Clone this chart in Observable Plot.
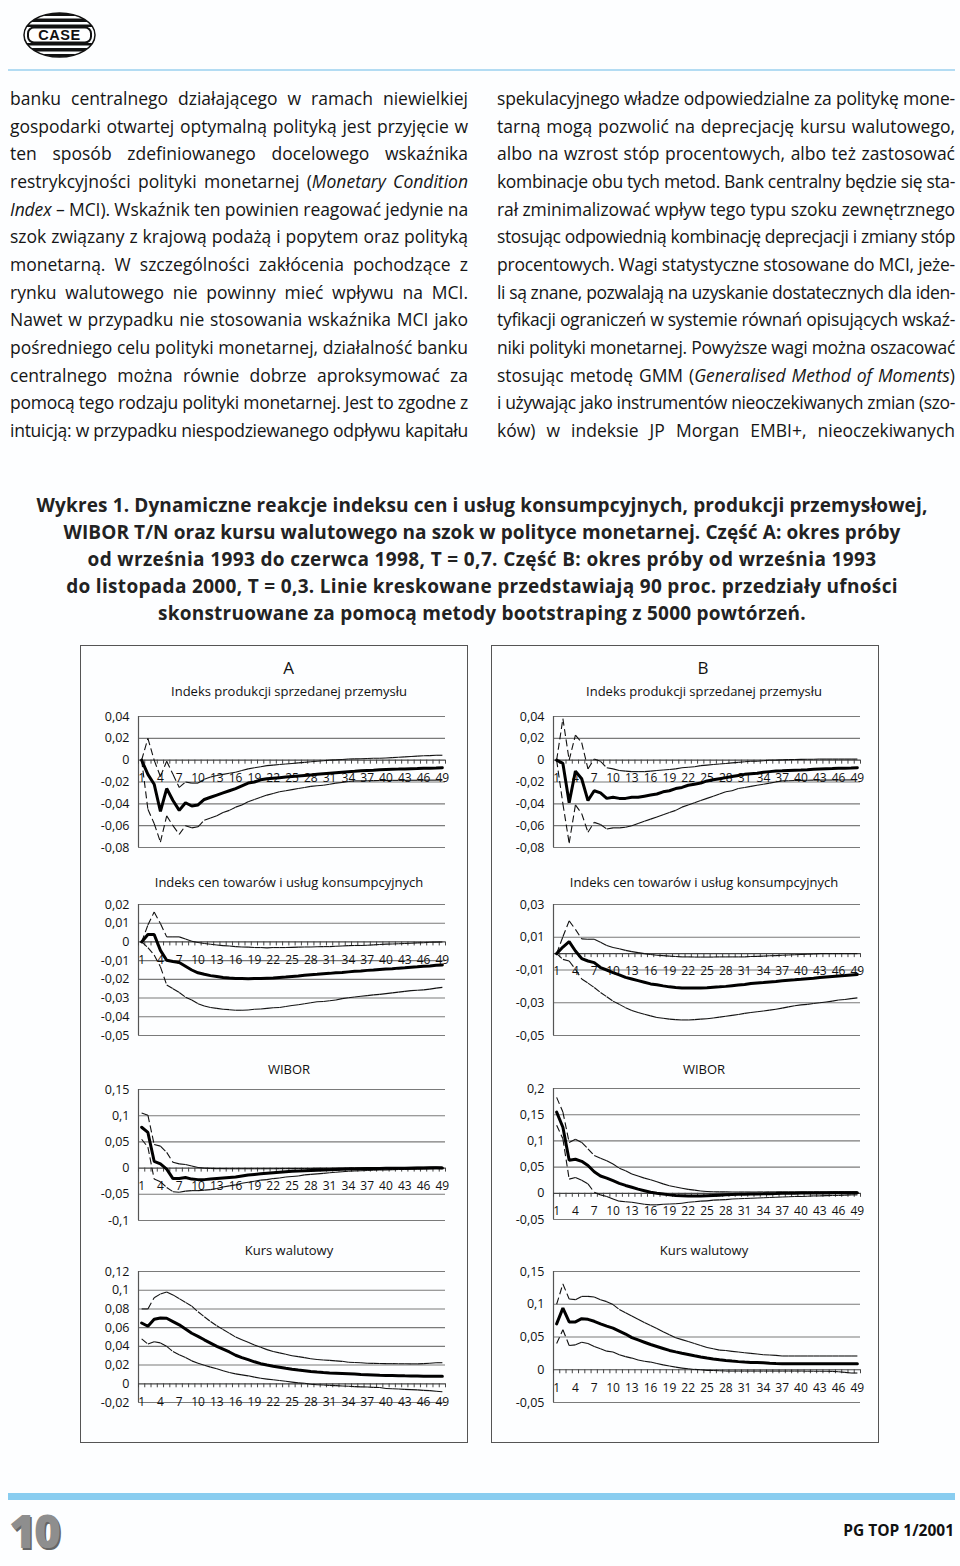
<!DOCTYPE html>
<html><head><meta charset="utf-8">
<script src="https://cdn.jsdelivr.net/npm/d3@7"></script>
<script src="https://cdn.jsdelivr.net/npm/@observablehq/plot@0.6"></script>
<style>
html,body{margin:0;padding:0;background:#fdfeff;}
#page{position:relative;width:960px;height:1566px;overflow:hidden;font-family:"Open Sans",sans-serif;color:#151515;}
.abs{position:absolute;}
.line{position:absolute;white-space:nowrap;font-size:17.5px;line-height:20px;}
.cap{position:absolute;white-space:nowrap;font-size:19px;font-weight:700;line-height:22px;color:#222;transform:translateX(-50%);}
.frame{position:absolute;border:1.5px solid #555;box-sizing:border-box;background:#fdfeff;}
.ttl{position:absolute;transform:translate(-50%,-50%);white-space:nowrap;color:#111;}
.chart{position:absolute;}
</style></head>
<body><div id="page">
<svg class="abs" style="left:23px;top:12px" width="73" height="46" viewBox="0 0 73 46">
<defs><clipPath id="ov"><ellipse cx="36.5" cy="23" rx="35.5" ry="22"/></clipPath></defs>
<g clip-path="url(#ov)" fill="#111">
<rect x="0" y="0" width="73" height="4"/><rect x="0" y="6.5" width="73" height="3.5"/><rect x="0" y="12.5" width="73" height="2.5"/>
<rect x="0" y="31" width="73" height="2.5"/><rect x="0" y="36" width="73" height="3.5"/><rect x="0" y="42" width="73" height="4"/>
</g>
<ellipse cx="36.5" cy="23" rx="35.5" ry="22" fill="none" stroke="#111" stroke-width="1.5"/>
<rect x="5" y="15.5" width="63" height="15" rx="6" fill="#fff" stroke="#111" stroke-width="2"/>
<text x="36.5" y="28.2" text-anchor="middle" font-family="Liberation Sans" font-weight="700" font-size="14.5" fill="#111" letter-spacing="0.6">CASE</text>
</svg>
<div class="abs" style="left:8px;top:69px;width:947px;height:1.5px;background:#b3dcf3"></div>
<div class="frame" style="left:80px;top:645px;width:388px;height:798px"></div>
<div class="frame" style="left:491px;top:645px;width:388px;height:798px"></div>
<div class="abs" style="left:8px;top:1493px;width:947px;height:7px;background:#89cdf0"></div>
<div class="abs" style="left:9px;top:1503px;font-family:'Open Sans';font-weight:800;font-size:46px;line-height:54px;color:#8e8e8e;text-shadow:1.5px 1.5px 0 #666;letter-spacing:-2px">10</div>
<div class="abs" style="right:6px;top:1520px;font-family:'Open Sans';font-weight:700;font-size:15.5px;line-height:20px;color:#111">PG TOP 1/2001</div>
</div>
<script>
// ---------- text ----------
const leftLines = [
 "banku centralnego działającego w ramach niewielkiej",
 "gospodarki otwartej optymalną polityką jest przyjęcie w",
 "ten sposób zdefiniowanego docelowego wskaźnika",
 "restrykcyjności polityki monetarnej (<i>Monetary Condition</i>",
 "<i>Index</i> – MCI). Wskaźnik ten powinien reagować jedynie na",
 "szok związany z krajową podażą i popytem oraz polityką",
 "monetarną. W szczególności zakłócenia pochodzące z",
 "rynku walutowego nie powinny mieć wpływu na MCI.",
 "Nawet w przypadku nie stosowania wskaźnika MCI jako",
 "pośredniego celu polityki monetarnej, działalność banku",
 "centralnego można równie dobrze aproksymować za",
 "pomocą tego rodzaju polityki monetarnej. Jest to zgodne z",
 "intuicją: w przypadku niespodziewanego odpływu kapitału"
];
const rightLines = [
 "spekulacyjnego władze odpowiedzialne za politykę mone-",
 "tarną mogą pozwolić na deprecjację kursu walutowego,",
 "albo na wzrost stóp procentowych, albo też zastosować",
 "kombinacje obu tych metod. Bank centralny będzie się sta-",
 "rał zminimalizować wpływ tego typu szoku zewnętrznego",
 "stosując odpowiednią kombinację deprecjacji i zmiany stóp",
 "procentowych. Wagi statystyczne stosowane do MCI, jeże-",
 "li są znane, pozwalają na uzyskanie dostatecznych dla iden-",
 "tyfikacji ograniczeń w systemie równań opisujących wskaź-",
 "niki polityki monetarnej. Powyższe wagi można oszacować",
 "stosując metodę GMM (<i>Generalised Method of Moments</i>)",
 "i używając jako instrumentów nieoczekiwanych zmian (szo-",
 "ków) w indeksie JP Morgan EMBI+, nieoczekiwanych"
];
const captionLines = [
 "Wykres 1.  Dynamiczne reakcje indeksu cen i usług konsumpcyjnych, produkcji przemysłowej,",
 "WIBOR T/N oraz kursu walutowego na szok w polityce monetarnej. Część A: okres próby",
 "od września 1993 do czerwca 1998, T = 0,7. Część B: okres próby od września 1993",
 "do listopada  2000, T = 0,3. Linie kreskowane przedstawiają 90 proc. przedziały ufności",
 "skonstruowane za pomocą metody bootstraping z 5000 powtórzeń."
];
const captionWidths = [891, 837, 789, 832, 648];

// ---------- chart data ----------
const periods = [1,2,3,4,5,6,7,8,9,10,11,12,13,14,15,16,17,18,19,20,21,22,23,24,25,26,27,28,29,30,31,32,33,34,35,36,37,38,39,40,41,42,43,44,45,46,47,48,49];
const periodLabels = [1,4,7,10,13,16,19,22,25,28,31,34,37,40,43,46,49];

// A: Indeks produkcji sprzedanej przemysłu
const prodA_mid = [0,-0.013,-0.022,-0.047,-0.026,-0.037,-0.046,-0.039,-0.042,-0.041,-0.036,-0.034,-0.032,-0.030,-0.028,-0.026,-0.0235,-0.021,-0.020,-0.018,-0.017,-0.0165,-0.016,-0.0155,-0.015,-0.0145,-0.014,-0.0135,-0.013,-0.0125,-0.012,-0.0115,-0.011,-0.0105,-0.0102,-0.0098,-0.0095,-0.0092,-0.0088,-0.0085,-0.0083,-0.0082,-0.008,-0.0078,-0.0077,-0.0075,-0.0073,-0.0072,-0.007];
const prodA_up = [0,0.020,0.000,-0.015,-0.001,-0.013,-0.025,-0.020,-0.021,-0.021,-0.0175,-0.0155,-0.014,-0.013,-0.012,-0.011,-0.0095,-0.008,-0.007,-0.006,-0.005,-0.0045,-0.004,-0.0035,-0.003,-0.0025,-0.002,-0.0015,-0.001,-0.0005,0,0.0003,0.0006,0.001,0.0012,0.0013,0.0015,0.0017,0.0018,0.002,0.0023,0.0027,0.003,0.0033,0.0037,0.004,0.0042,0.0045,0.0045];
const prodA_lo = [0,-0.045,-0.058,-0.075,-0.051,-0.060,-0.068,-0.060,-0.062,-0.061,-0.055,-0.053,-0.051,-0.048,-0.046,-0.043,-0.041,-0.038,-0.036,-0.034,-0.032,-0.0305,-0.029,-0.028,-0.027,-0.026,-0.025,-0.024,-0.0235,-0.023,-0.022,-0.021,-0.0205,-0.0195,-0.019,-0.019,-0.0188,-0.0187,-0.0186,-0.0186,-0.0185,-0.0185,-0.0185,-0.0184,-0.0184,-0.0184,-0.0183,-0.0183,-0.0183];
// B: Indeks produkcji sprzedanej przemysłu
const prodB_mid = [0,-0.003,-0.039,-0.010,-0.017,-0.037,-0.028,-0.030,-0.035,-0.034,-0.035,-0.035,-0.034,-0.034,-0.033,-0.032,-0.031,-0.029,-0.028,-0.026,-0.025,-0.023,-0.022,-0.021,-0.019,-0.018,-0.017,-0.016,-0.015,-0.014,-0.013,-0.0125,-0.012,-0.011,-0.0105,-0.010,-0.0098,-0.0095,-0.0092,-0.009,-0.0087,-0.0083,-0.008,-0.0078,-0.0077,-0.0075,-0.0073,-0.0072,-0.007];
const prodB_up = [0,0.038,0.000,0.023,0.016,-0.008,0.001,-0.001,-0.007,-0.008,-0.0095,-0.010,-0.0105,-0.0105,-0.0105,-0.010,-0.0095,-0.009,-0.0085,-0.008,-0.007,-0.0065,-0.006,-0.005,-0.0045,-0.004,-0.0035,-0.003,-0.0025,-0.002,-0.0015,-0.001,-0.001,-0.0005,0,0,0.0003,0.0005,0.0006,0.0007,0.0008,0.0009,0.001,0.001,0.001,0.001,0.001,0.001,0.001];
const prodB_lo = [0,-0.040,-0.076,-0.041,-0.049,-0.066,-0.057,-0.059,-0.063,-0.062,-0.062,-0.0615,-0.060,-0.058,-0.056,-0.054,-0.052,-0.050,-0.048,-0.046,-0.043,-0.041,-0.039,-0.037,-0.035,-0.033,-0.031,-0.029,-0.028,-0.026,-0.025,-0.024,-0.023,-0.022,-0.021,-0.020,-0.019,-0.0188,-0.0186,-0.0185,-0.0184,-0.0183,-0.0183,-0.0182,-0.0182,-0.0182,-0.0181,-0.0181,-0.018];
// A: Indeks cen towarów i usług konsumpcyjnych
const cpiA_mid = [0,0.004,0.004,-0.0045,-0.0098,-0.0105,-0.011,-0.013,-0.015,-0.0165,-0.0173,-0.018,-0.0185,-0.019,-0.0193,-0.0195,-0.0196,-0.0197,-0.0196,-0.0195,-0.0194,-0.0193,-0.019,-0.0188,-0.0185,-0.0182,-0.0178,-0.0175,-0.0173,-0.017,-0.0168,-0.0165,-0.0163,-0.016,-0.0157,-0.0155,-0.0152,-0.015,-0.0147,-0.0145,-0.0143,-0.014,-0.0138,-0.0135,-0.0133,-0.013,-0.0128,-0.0125,-0.0123];
const cpiA_up = [0,0.009,0.016,0.0098,0.0027,0.0027,0.0027,0.0016,0.0004,-0.0003,-0.0008,-0.0012,-0.0016,-0.002,-0.0022,-0.0025,-0.0027,-0.0028,-0.003,-0.003,-0.0032,-0.003,-0.003,-0.003,-0.0029,-0.0028,-0.0027,-0.0027,-0.0026,-0.0025,-0.0025,-0.0023,-0.0022,-0.002,-0.0019,-0.0019,-0.0018,-0.0016,-0.0014,-0.0012,-0.0011,-0.001,-0.0008,-0.0007,-0.0005,-0.0004,-0.0002,-0.0001,0];
const cpiA_lo = [0,-0.003,-0.007,-0.0133,-0.023,-0.025,-0.027,-0.0295,-0.031,-0.033,-0.0342,-0.035,-0.0355,-0.036,-0.0362,-0.0365,-0.0365,-0.0364,-0.036,-0.0358,-0.0355,-0.0352,-0.035,-0.0345,-0.034,-0.0336,-0.033,-0.0325,-0.032,-0.0318,-0.0314,-0.031,-0.0303,-0.0298,-0.0294,-0.029,-0.0287,-0.0283,-0.028,-0.0276,-0.0272,-0.0268,-0.0264,-0.026,-0.0258,-0.0256,-0.0252,-0.0247,-0.0243];
// B: Indeks cen towarów i usług konsumpcyjnych
const cpiB_mid = [0,0.004,0.0073,0.0016,-0.003,-0.0045,-0.0055,-0.0085,-0.010,-0.0116,-0.013,-0.0145,-0.0155,-0.0165,-0.0175,-0.0185,-0.019,-0.0197,-0.0203,-0.0207,-0.021,-0.021,-0.021,-0.021,-0.0208,-0.0205,-0.0203,-0.020,-0.0196,-0.0192,-0.0188,-0.0183,-0.018,-0.0177,-0.0173,-0.017,-0.0166,-0.0162,-0.016,-0.0157,-0.0153,-0.015,-0.0146,-0.0143,-0.014,-0.0137,-0.0134,-0.013,-0.0127];
const cpiB_up = [0,0.0103,0.020,0.0148,0.009,0.0088,0.0088,0.007,0.005,0.0037,0.003,0.002,0.0012,0.0006,0,-0.0005,-0.001,-0.0012,-0.0015,-0.0018,-0.002,-0.002,-0.0021,-0.0021,-0.0021,-0.0021,-0.002,-0.002,-0.002,-0.002,-0.002,-0.0018,-0.0017,-0.0015,-0.0013,-0.0012,-0.001,-0.0008,-0.0007,-0.0005,-0.0004,-0.0002,0,0,0,0,0,0,0];
const cpiB_lo = [0,-0.0035,-0.0045,-0.0095,-0.0155,-0.018,-0.0207,-0.0237,-0.0263,-0.029,-0.031,-0.033,-0.0347,-0.036,-0.037,-0.038,-0.039,-0.0395,-0.040,-0.0403,-0.0405,-0.0405,-0.0403,-0.040,-0.0398,-0.0393,-0.0388,-0.0382,-0.0377,-0.0372,-0.0365,-0.036,-0.0355,-0.035,-0.0345,-0.034,-0.0333,-0.0325,-0.0318,-0.0313,-0.031,-0.0305,-0.030,-0.0295,-0.029,-0.0283,-0.028,-0.0275,-0.027];
// A: WIBOR
const wiborA_mid = [0.078,0.068,0.013,0.008,-0.002,-0.020,-0.020,-0.018,-0.021,-0.022,-0.022,-0.021,-0.020,-0.019,-0.018,-0.017,-0.015,-0.013,-0.012,-0.011,-0.010,-0.009,-0.008,-0.007,-0.006,-0.0055,-0.005,-0.0045,-0.004,-0.0035,-0.003,-0.0025,-0.002,-0.0018,-0.0015,-0.0012,-0.001,-0.0008,-0.0006,-0.0005,-0.0004,-0.0003,-0.0002,-0.0001,0,0,0.0005,0.0005,0];
const wiborA_up = [0.105,0.101,0.045,0.042,0.030,0.011,0.008,0.007,0.004,0.001,0,-0.0005,-0.001,-0.001,-0.0012,-0.0012,-0.0012,-0.0012,-0.0012,-0.0012,-0.0012,-0.0011,-0.001,-0.001,-0.001,-0.0009,-0.0008,-0.0007,-0.0006,-0.0005,-0.0003,0,0.0002,0.0004,0.0005,0.0006,0.0007,0.0008,0.0009,0.001,0.001,0.0011,0.0012,0.0013,0.0014,0.0015,0.0017,0.0018,0.002];
const wiborA_lo = [0.055,0.040,-0.021,-0.026,-0.037,-0.045,-0.046,-0.044,-0.043,-0.043,-0.042,-0.041,-0.039,-0.036,-0.034,-0.032,-0.029,-0.027,-0.025,-0.023,-0.022,-0.020,-0.019,-0.017,-0.016,-0.015,-0.013,-0.012,-0.011,-0.010,-0.009,-0.008,-0.007,-0.006,-0.0055,-0.005,-0.0045,-0.004,-0.0037,-0.0034,-0.003,-0.0027,-0.0024,-0.0022,-0.002,-0.0018,-0.0015,-0.0012,-0.001];
// B: WIBOR
const wiborB_mid = [0.155,0.126,0.063,0.065,0.061,0.053,0.041,0.033,0.029,0.024,0.019,0.015,0.0115,0.008,0.005,0.002,0,-0.0015,-0.003,-0.004,-0.0045,-0.005,-0.005,-0.005,-0.0045,-0.004,-0.0035,-0.003,-0.0025,-0.002,-0.002,-0.0015,-0.0012,-0.001,-0.0007,-0.0005,0,0,0.0003,0.0005,0.0005,0.0007,0.0008,0.0008,0.001,0.001,0.001,0.001,0.001];
const wiborB_up = [0.183,0.155,0.097,0.103,0.097,0.085,0.072,0.067,0.062,0.056,0.048,0.043,0.037,0.033,0.029,0.026,0.022,0.018,0.0145,0.012,0.0095,0.0075,0.006,0.0045,0.0035,0.003,0.0028,0.0027,0.0026,0.0025,0.0025,0.0025,0.0026,0.0026,0.0027,0.0027,0.0028,0.0028,0.0028,0.0029,0.0029,0.003,0.003,0.003,0.003,0.003,0.003,0.003,0.003];
const wiborB_lo = [0.130,0.104,0.027,0.030,0.025,0.018,0.002,-0.003,-0.006,-0.011,-0.015,-0.016,-0.017,-0.019,-0.021,-0.022,-0.022,-0.021,-0.0205,-0.020,-0.019,-0.017,-0.016,-0.015,-0.0145,-0.013,-0.0125,-0.012,-0.011,-0.0105,-0.010,-0.0095,-0.009,-0.0085,-0.008,-0.0075,-0.007,-0.0065,-0.006,-0.006,-0.0055,-0.005,-0.005,-0.0045,-0.004,-0.004,-0.0035,-0.003,-0.003];
// A: Kurs walutowy
const fxA_mid = [0.065,0.0615,0.069,0.0703,0.070,0.0665,0.063,0.0585,0.054,0.0507,0.047,0.0435,0.040,0.037,0.034,0.0305,0.028,0.0258,0.0235,0.0215,0.020,0.0188,0.0177,0.0165,0.0155,0.0147,0.014,0.0132,0.0125,0.012,0.0116,0.0113,0.011,0.0107,0.0104,0.010,0.0097,0.0094,0.0091,0.0089,0.0088,0.0087,0.0085,0.0084,0.0082,0.008,0.008,0.008,0.008];
const fxA_up = [0.080,0.080,0.092,0.096,0.098,0.095,0.091,0.087,0.083,0.077,0.0717,0.0665,0.062,0.058,0.054,0.050,0.047,0.0445,0.0415,0.039,0.0365,0.0345,0.033,0.0315,0.030,0.029,0.028,0.0268,0.026,0.0255,0.025,0.0245,0.024,0.023,0.0228,0.0225,0.022,0.0218,0.0216,0.0215,0.0215,0.0214,0.0214,0.0213,0.0213,0.0215,0.022,0.0225,0.0225];
const fxA_lo = [0.048,0.0425,0.045,0.0437,0.040,0.0345,0.031,0.028,0.0245,0.022,0.0198,0.0178,0.016,0.014,0.012,0.0106,0.0095,0.0085,0.0071,0.006,0.005,0.0043,0.0035,0.0027,0.0018,0.001,0.0005,-0.0005,-0.001,-0.0013,-0.0017,-0.002,-0.0023,-0.0027,-0.003,-0.0033,-0.0035,-0.0038,-0.004,-0.005,-0.0053,-0.0056,-0.006,-0.0062,-0.0065,-0.007,-0.0073,-0.008,-0.0085];
// B: Kurs walutowy
const fxB_mid = [0.070,0.094,0.073,0.073,0.078,0.077,0.074,0.070,0.0665,0.0635,0.059,0.0545,0.049,0.0455,0.042,0.0385,0.0355,0.0325,0.0295,0.0273,0.0253,0.0234,0.0213,0.0195,0.0178,0.0165,0.0153,0.0142,0.0132,0.0124,0.0117,0.0112,0.0109,0.0106,0.0098,0.0094,0.0091,0.009,0.009,0.009,0.009,0.009,0.009,0.009,0.009,0.009,0.009,0.009,0.009];
const fxB_up = [0.100,0.131,0.108,0.107,0.112,0.112,0.111,0.107,0.104,0.0995,0.092,0.087,0.082,0.077,0.072,0.0675,0.063,0.058,0.0533,0.049,0.046,0.0431,0.040,0.037,0.034,0.032,0.030,0.0294,0.028,0.027,0.026,0.025,0.024,0.023,0.0225,0.022,0.021,0.021,0.021,0.021,0.021,0.021,0.021,0.021,0.021,0.021,0.021,0.021,0.021];
const fxB_lo = [0.040,0.061,0.037,0.038,0.042,0.040,0.0355,0.032,0.0284,0.027,0.0228,0.020,0.0178,0.015,0.013,0.0117,0.0095,0.0075,0.0056,0.004,0.0025,0.0015,0.0005,0,-0.001,-0.0012,-0.0015,-0.002,-0.002,-0.002,-0.002,-0.002,-0.002,-0.002,-0.002,-0.002,-0.002,-0.002,-0.002,-0.002,-0.0022,-0.0022,-0.0023,-0.0024,-0.0025,-0.003,-0.004,-0.005,-0.005];

// axis tick labels
const ticksProd = [-0.08,-0.06,-0.04,-0.02,0,0.02,0.04];
const ticksCpiA = [-0.05,-0.04,-0.03,-0.02,-0.01,0,0.01,0.02];
const ticksCpiB = [-0.05,-0.03,-0.01,0.01,0.03];
const ticksWiborA = [-0.1,-0.05,0,0.05,0.1,0.15];
const ticksWiborB = [-0.05,0,0.05,0.1,0.15,0.2];
const ticksFxA = [-0.02,0,0.02,0.04,0.06,0.08,0.1,0.12];
const ticksFxB = [-0.05,0,0.05,0.1,0.15];

const panelTitles = ["A","B"];
const chartTitles = ["Indeks produkcji sprzedanej przemysłu","Indeks cen towarów i usług konsumpcyjnych","WIBOR","Kurs walutowy"];

// ---------- layout ----------
const page = document.getElementById("page");
function addLines(lines, left, width, top0, step){
  lines.forEach((t,i)=>{
    const d=document.createElement("div");
    d.className="line"; d.innerHTML=t;
    d.style.left=left+"px"; d.style.top=(top0+i*step-10)+"px";
    d.dataset.w=width;
    page.appendChild(d);
  });
}
addLines(leftLines, 10, 458, 98, 27.65);
addLines(rightLines, 497, 458, 98, 27.65);
captionLines.forEach((t,i)=>{
  const d=document.createElement("div");
  d.className="cap"; d.textContent=t;
  d.style.left="482px"; d.style.top=(505+i*27-11)+"px";
  d.dataset.w=captionWidths[i];
  page.appendChild(d);
});

function addTitle(text, x, y, size, weight){
  const d=document.createElement("div");
  d.className="ttl"; d.textContent=text;
  d.style.left=x+"px"; d.style.top=y+"px"; d.style.fontSize=size+"px";
  if(weight) d.style.fontWeight=weight;
  page.appendChild(d);
}
addTitle(panelTitles[0], 288.5, 667, 17, 500);
addTitle(panelTitles[1], 703, 667, 17, 500);
const titleY = [691, 882, 1069, 1250];
chartTitles.forEach((t,i)=>{ addTitle(t, 289, titleY[i], 13); addTitle(t, 704, titleY[i], 13); });

const fmt = d => d===0 ? "0" : String(d).replace(".", ",");
const boundaries = periods.map(p=>p-0.5).concat([periods[periods.length-1]+0.5]);
const segs = arr => arr.slice(1).map((v,i)=>({x1: periods[i], x2: periods[i+1], y1: arr[i], y2: v}));

function makeChart(mid, up, lo, ticks, ml, mr){
  const dom = [ticks[0], ticks[ticks.length-1]];
  return Plot.plot({
    width: 387, height: 166, marginLeft: ml, marginRight: mr, marginTop: 10, marginBottom: 25,
    x: {domain: [periods[0]-0.5, periods[periods.length-1]+0.5], axis: null},
    y: {domain: dom, axis: null},
    style: {background: "transparent", fontFamily: "'Open Sans', sans-serif", fontSize: "12px", color: "#111", overflow: "visible"},
    marks: [
      Plot.ruleY(ticks.filter(t=>t!==0), {stroke: "#7a7a7a", strokeWidth: 1.1}),
      Plot.ruleX([periods[0]-0.5], {stroke: "#555", strokeWidth: 1.2}),
      Plot.ruleY([0], {stroke: "#444", strokeWidth: 1.2}),
      Plot.ruleX(boundaries, {x: d=>d, y1: 0, y2: 0, insetBottom: -4, stroke: "#444", strokeWidth: 1}),
      Plot.text(ticks, {x: periods[0]-0.5, y: d=>d, text: fmt, textAnchor: "end", dx: -9, fontSize: 12.5, fill: "#111"}),
      Plot.text(periodLabels, {x: d=>d, y: 0, dy: 18, text: d=>String(d), fontSize: 12, fill: "#111"}),
      Plot.link(segs(up), {x1: "x1", y1: "y1", x2: "x2", y2: "y2", stroke: "#111", strokeWidth: 1.1, strokeDasharray: "7,3.5"}),
      Plot.link(segs(lo), {x1: "x1", y1: "y1", x2: "x2", y2: "y2", stroke: "#111", strokeWidth: 1.1, strokeDasharray: "7,3.5"}),
      Plot.line(mid, {x: (d,i)=>periods[i], y: d=>d, stroke: "#000", strokeWidth: 3, strokeLinejoin: "miter"})
    ]
  });
}
const specs = [
  [prodA_mid, prodA_up, prodA_lo, ticksProd, 0, 716],
  [prodB_mid, prodB_up, prodB_lo, ticksProd, 1, 716],
  [cpiA_mid, cpiA_up, cpiA_lo, ticksCpiA, 0, 904],
  [cpiB_mid, cpiB_up, cpiB_lo, ticksCpiB, 1, 904],
  [wiborA_mid, wiborA_up, wiborA_lo, ticksWiborA, 0, 1089],
  [wiborB_mid, wiborB_up, wiborB_lo, ticksWiborB, 1, 1088],
  [fxA_mid, fxA_up, fxA_lo, ticksFxA, 0, 1271],
  [fxB_mid, fxB_up, fxB_lo, ticksFxB, 1, 1271]
];
specs.forEach(([m,u,l,t,side,top])=>{
  const svg = side===0 ? makeChart(m,u,l,t,58,22) : makeChart(m,u,l,t,62,18);
  svg.classList.add("chart");
  svg.style.left = (side===0 ? 80 : 491) + "px";
  svg.style.top = (top-10) + "px";
  svg.style.position = "absolute";
  page.appendChild(svg);
});

function fitAll(){
  page.querySelectorAll(".line,.cap").forEach(el=>{
    const target=+el.dataset.w;
    el.style.letterSpacing="0px"; el.style.wordSpacing="0px";
    const w=el.getBoundingClientRect().width;
    const text=el.textContent;
    const spaces=(text.match(/ /g)||[]).length;
    if(el.classList.contains("cap")){
      el.style.letterSpacing=((target-w)/text.length)+"px";
    } else if(w>target){
      el.style.letterSpacing=((target-w)/text.length)+"px";
    } else if(spaces){
      el.style.wordSpacing=((target-w)/spaces)+"px";
    }
  });
}
fitAll();
if(document.fonts && document.fonts.ready) document.fonts.ready.then(fitAll);
</script>
</body></html>
